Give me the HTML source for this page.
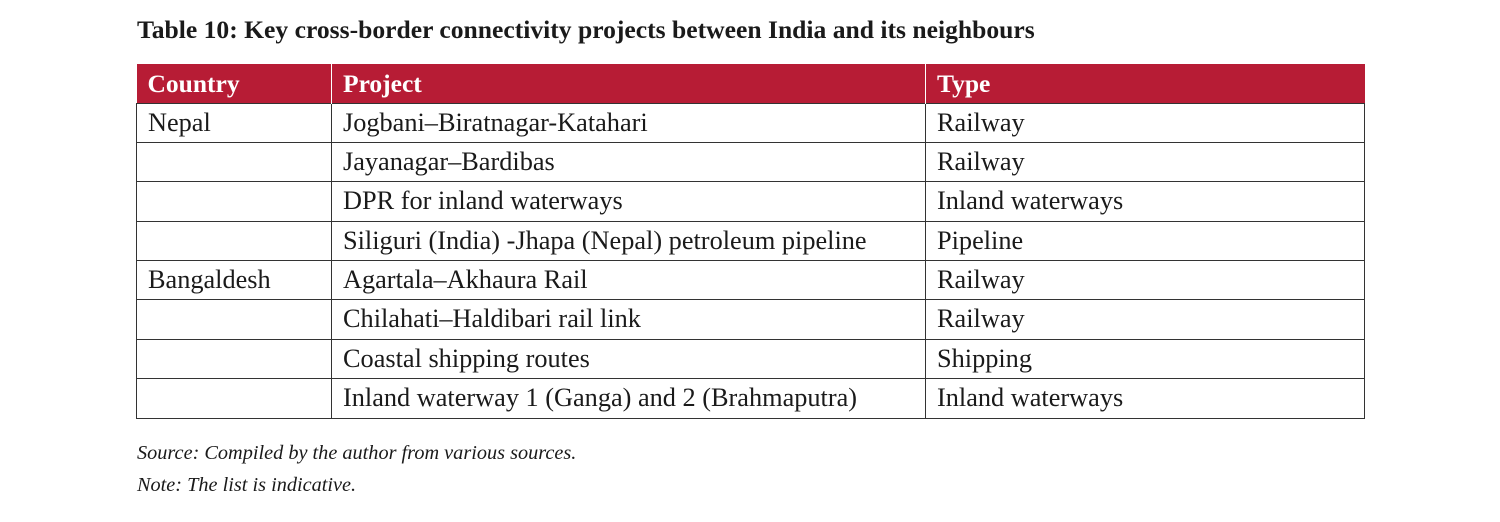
<!DOCTYPE html>
<html><head><meta charset="utf-8"><style>
body{margin:0;width:1500px;height:522px;background:#fff;font-family:"Liberation Serif",serif;color:#1a1a1a;position:relative;overflow:hidden}
#title{position:absolute;left:137px;top:15px;font-weight:bold;font-size:25.6px;white-space:nowrap}
table{position:absolute;left:136px;top:64px;width:1228px;border-collapse:collapse;font-size:26.3px;table-layout:fixed}
td,th{padding:5px 0 0 11px;text-align:left;height:39.4px;line-height:28px;border:1.5px solid #333;white-space:nowrap;box-sizing:border-box;vertical-align:top}
th{background:#b71c35;color:#fff;font-weight:bold;font-size:25.5px;height:39px;border:none;border-left:1.5px solid #fff;padding-top:6px}
th:first-child{border-left:none}
.note{position:absolute;left:137px;font-style:italic;font-size:20.3px}
</style></head><body>
<div id="title">Table 10: Key cross-border connectivity projects between India and its neighbours</div>
<table>
<colgroup><col style="width:195px"><col style="width:594px"><col style="width:439px"></colgroup>
<tr><th>Country</th><th>Project</th><th>Type</th></tr>
<tr><td>Nepal</td><td>Jogbani–Biratnagar-Katahari</td><td>Railway</td></tr>
<tr><td></td><td>Jayanagar–Bardibas</td><td>Railway</td></tr>
<tr><td></td><td>DPR for inland waterways</td><td>Inland waterways</td></tr>
<tr><td></td><td>Siliguri (India) -Jhapa (Nepal) petroleum pipeline</td><td>Pipeline</td></tr>
<tr><td>Bangaldesh</td><td>Agartala–Akhaura Rail</td><td>Railway</td></tr>
<tr><td></td><td>Chilahati–Haldibari rail link</td><td>Railway</td></tr>
<tr><td></td><td>Coastal shipping routes</td><td>Shipping</td></tr>
<tr><td></td><td>Inland waterway 1 (Ganga) and 2 (Brahmaputra)</td><td>Inland waterways</td></tr>
</table>
<div class="note" style="top:442px">Source: Compiled by the author from various sources.</div>
<div class="note" style="top:474px">Note: The list is indicative.</div>
</body></html>
